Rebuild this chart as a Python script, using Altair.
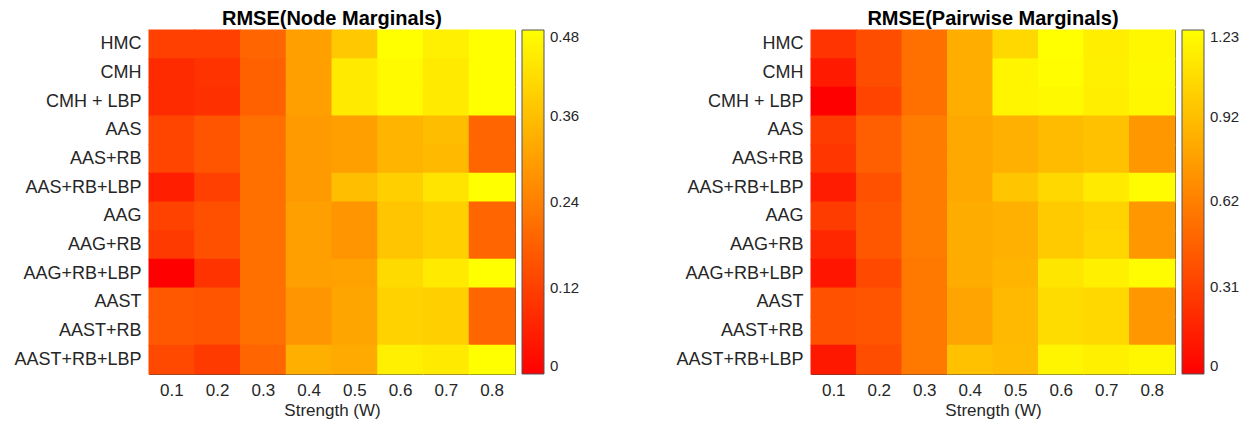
import altair as alt
import pandas as pd

methods = ["HMC", "CMH", "CMH + LBP", "AAS", "AAS+RB", "AAS+RB+LBP",
           "AAG", "AAG+RB", "AAG+RB+LBP", "AAST", "AAST+RB", "AAST+RB+LBP"]
strengths = ["0.1", "0.2", "0.3", "0.4", "0.5", "0.6", "0.7", "0.8"]

node_rmse = [
    [0.120, 0.120, 0.190, 0.300, 0.376, 0.480, 0.450, 0.480],
    [0.080, 0.096, 0.180, 0.300, 0.440, 0.470, 0.440, 0.480],
    [0.080, 0.090, 0.180, 0.300, 0.440, 0.470, 0.440, 0.480],
    [0.130, 0.160, 0.210, 0.290, 0.300, 0.340, 0.355, 0.190],
    [0.130, 0.160, 0.210, 0.290, 0.300, 0.340, 0.350, 0.190],
    [0.056, 0.120, 0.210, 0.290, 0.360, 0.390, 0.430, 0.480],
    [0.125, 0.150, 0.210, 0.300, 0.280, 0.370, 0.390, 0.190],
    [0.110, 0.150, 0.210, 0.300, 0.280, 0.370, 0.390, 0.190],
    [0.000, 0.096, 0.210, 0.300, 0.305, 0.410, 0.440, 0.480],
    [0.165, 0.160, 0.210, 0.280, 0.310, 0.395, 0.390, 0.190],
    [0.165, 0.160, 0.210, 0.280, 0.310, 0.395, 0.390, 0.190],
    [0.135, 0.110, 0.190, 0.330, 0.320, 0.450, 0.440, 0.480],
]

pair_rmse = [
    [0.25, 0.37, 0.54, 0.84, 1.04, 1.23, 1.15, 1.19],
    [0.125, 0.37, 0.54, 0.84, 1.18, 1.22, 1.16, 1.20],
    [0.00, 0.33, 0.54, 0.84, 1.18, 1.20, 1.15, 1.19],
    [0.29, 0.46, 0.60, 0.81, 0.85, 0.90, 0.93, 0.73],
    [0.26, 0.46, 0.60, 0.81, 0.85, 0.90, 0.93, 0.73],
    [0.135, 0.39, 0.60, 0.81, 0.955, 1.04, 1.13, 1.21],
    [0.29, 0.42, 0.60, 0.83, 0.85, 0.98, 1.02, 0.73],
    [0.19, 0.42, 0.60, 0.83, 0.85, 0.98, 1.03, 0.73],
    [0.10, 0.35, 0.58, 0.83, 0.87, 1.11, 1.16, 1.21],
    [0.39, 0.405, 0.58, 0.79, 0.89, 1.06, 1.04, 0.73],
    [0.39, 0.405, 0.58, 0.79, 0.89, 1.06, 1.04, 0.73],
    [0.115, 0.37, 0.58, 0.93, 0.90, 1.18, 1.16, 1.19],
]

node_ticks = [0, 0.12, 0.24, 0.36, 0.48]
pair_ticks = [0, 0.31, 0.62, 0.92, 1.23]

TXT = "#262626"
FONT = "Liberation Sans"


def to_df(mat):
    rows = []
    for m, vals in zip(methods, mat):
        for s, v in zip(strengths, vals):
            rows.append({"method": m, "strength": s, "value": v})
    return pd.DataFrame(rows)


def panel(mat, title, ticks, vmax, w):
    sc = dict(domain=[0, vmax], range=["#ff0000", "#ffff00"],
              interpolate="rgb", nice=False, zero=True)
    return alt.Chart(to_df(mat)).mark_rect(
        strokeWidth=0, width=w / 8 + 1, height=344 / 12 + 1
    ).encode(
        x=alt.X("strength:O", sort=strengths, title="Strength (W)",
                axis=alt.Axis(labelAngle=0, ticks=False, labelPadding=8,
                              titlePadding=4, domain=False)),
        y=alt.Y("method:O", sort=methods, title=None,
                axis=alt.Axis(ticks=False, labelPadding=8, domain=False)),
        color=alt.Color("value:Q",
                        scale=alt.Scale(**sc),
                        legend=alt.Legend(title=None, values=ticks, orient="right",
                                          offset=7, padding=0,
                                          gradientLength=344, gradientThickness=22,
                                          gradientStrokeColor="#555555",
                                          gradientStrokeWidth=1,
                                          labelFontSize=15, labelColor=TXT,
                                          labelFont=FONT, labelOffset=6,
                                          labelBaseline="middle",
                                          labelExpr="datum.value == 0 ? '0' : format(datum.value, '.2f')",
                                          labelOverlap=False)),
    ).properties(
        width=w, height=344,
        title=alt.TitleParams(title, fontSize=20, fontWeight="bold", font=FONT,
                              color="#000000", frame="group", anchor="middle",
                              offset=1),
    )


left = panel(node_rmse, "RMSE(Node Marginals)", node_ticks, 0.48, 366)
right = panel(pair_rmse, "RMSE(Pairwise Marginals)", pair_ticks, 1.23, 364)

chart = alt.hconcat(left, right, spacing=94).resolve_scale(
    color="independent"
).configure(
    background="white",
    padding={"left": 5, "top": 0, "right": 5, "bottom": 5},
).configure_view(
    stroke="#444444", strokeWidth=1
).configure_axis(
    labelFont=FONT, titleFont=FONT, labelFontSize=17, titleFontSize=17,
    labelColor=TXT, titleColor=TXT, titleFontWeight="normal", grid=False,
).configure_axisY(labelFontSize=18)

chart.save("out.html", embed_options={"renderer": "svg", "actions": False})
